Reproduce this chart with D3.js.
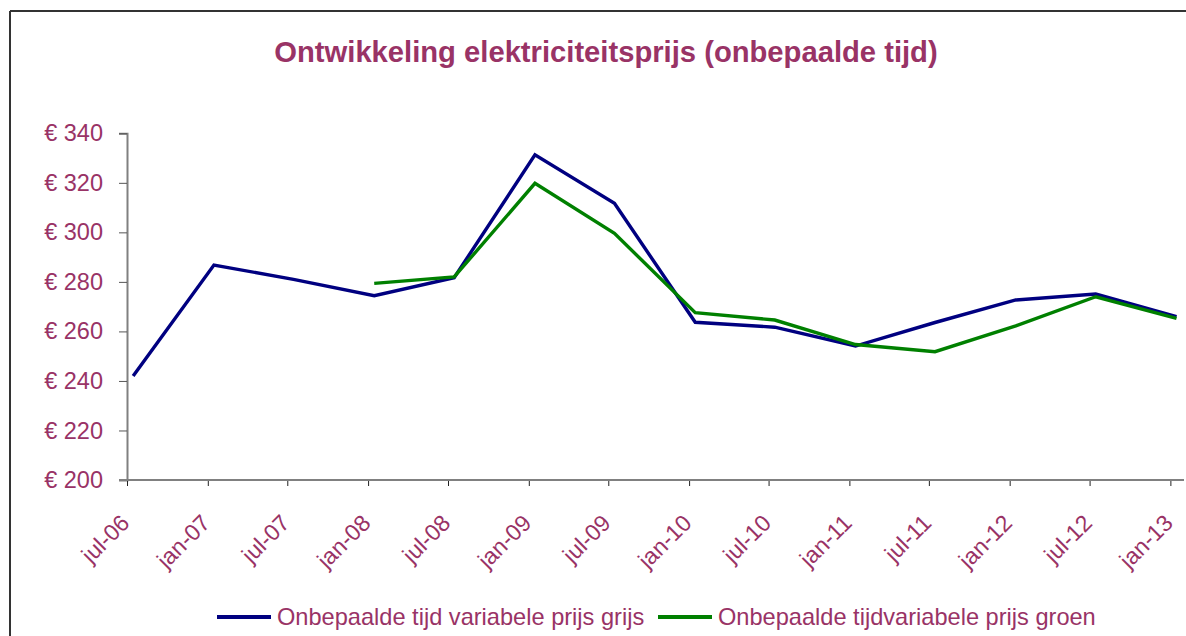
<!DOCTYPE html>
<html>
<head>
<meta charset="utf-8">
<style>
body { margin: 0; background: #fff; }
svg { display: block; font-family: "Liberation Sans", Arial, sans-serif; }
</style>
</head>
<body>
<svg width="1186" height="636"></svg>
<script src="https://d3js.org/d3.v7.min.js"></script>
<script>
// months of the series (data points sit mid-month)
var months = ["2006-07", "2007-01", "2007-07", "2008-01", "2008-07", "2009-01", "2009-07",
              "2010-01", "2010-07", "2011-01", "2011-07", "2012-01", "2012-07", "2013-01"];
var tickLabels = ["jul-06", "jan-07", "jul-07", "jan-08", "jul-08", "jan-09", "jul-09",
                  "jan-10", "jul-10", "jan-11", "jul-11", "jan-12", "jul-12", "jan-13"];
var grijs = [242, 286.8, 281, 274.4, 281.7, 331.3, 311.7, 263.7, 261.7, 254.1, 263.6, 272.7, 275.1, 266];
var groen = [null, null, null, 279.4, 282, 319.8, 299.6, 267.6, 264.6, 254.7, 251.8, 262.2, 274, 265.3];
var yTicks = [200, 220, 240, 260, 280, 300, 320, 340];
var seriesNames = ["Onbepaalde tijd variabele prijs grijs", "Onbepaalde tijdvariabele prijs groen"];
var seriesColors = ["#000080", "#008000"];

var plum = "#993366";
var svg = d3.select("svg");

var parseMonth = d3.timeParse("%Y-%m");
var tickDates = months.map(parseMonth);
var pointDates = tickDates.map(function(d) { return d3.timeDay.offset(d, 14); });

var x = d3.scaleTime()
    .domain([tickDates[0], d3.timeMonth.offset(tickDates[tickDates.length - 1], 1)])
    .range([127, 1184]);

var y = d3.scaleLinear()
    .domain([200, 340])
    .range([480, 133.3]);

// frame
svg.append("line").attr("x1", 10).attr("y1", 11).attr("x2", 1186).attr("y2", 11)
    .attr("stroke", "#333").attr("stroke-width", 2);
svg.append("line").attr("x1", 10).attr("y1", 11).attr("x2", 10).attr("y2", 636)
    .attr("stroke", "#333").attr("stroke-width", 2);

// title
svg.append("text")
    .attr("x", 606).attr("y", 62)
    .attr("text-anchor", "middle")
    .attr("fill", plum)
    .attr("font-weight", "bold")
    .attr("font-size", 29.2)
    .text("Ontwikkeling elektriciteitsprijs (onbepaalde tijd)");

// y axis
var yAxis = svg.append("g")
    .attr("transform", "translate(127,0)")
    .call(d3.axisLeft(y).tickValues(yTicks).tickSize(8).tickPadding(16)
        .tickFormat(function(d) { return "\u20AC " + d; }));
yAxis.select(".domain").attr("stroke", "#808080").attr("stroke-width", 2);
yAxis.selectAll(".tick line").attr("stroke", "#555");
yAxis.selectAll("text")
    .attr("fill", plum)
    .attr("font-size", 23.5)
    .attr("font-family", "Liberation Sans, Arial, sans-serif");

// x axis
var xAxis = svg.append("g")
    .attr("transform", "translate(0,480)")
    .call(d3.axisBottom(x).tickValues(tickDates).tickSize(6).tickSizeOuter(0)
        .tickFormat(function(d, i) { return tickLabels[i]; }));
xAxis.select(".domain").remove();
xAxis.selectAll(".tick line").attr("stroke", "#222");
xAxis.selectAll("text")
    .attr("fill", plum)
    .attr("font-size", 23)
    .attr("font-family", "Liberation Sans, Arial, sans-serif")
    .attr("text-anchor", "end")
    .attr("dy", 0)
    .attr("transform", "translate(-3,38) rotate(-45)");
svg.append("line").attr("x1", 119).attr("x2", 1184).attr("y1", 480).attr("y2", 480)
    .attr("stroke", "#808080").attr("stroke-width", 2);

// lines
var line = d3.line()
    .defined(function(d) { return d.v != null; })
    .x(function(d) { return x(d.t); })
    .y(function(d) { return y(d.v); });

[grijs, groen].forEach(function(s, k) {
    svg.append("path")
        .datum(s.map(function(v, i) { return {t: pointDates[i], v: v}; }))
        .attr("fill", "none")
        .attr("stroke", seriesColors[k])
        .attr("stroke-width", 3.4)
        .attr("d", line);
});

// legend
var legX = [217, 658];
seriesNames.forEach(function(name, k) {
    svg.append("line")
        .attr("x1", legX[k]).attr("x2", legX[k] + 54)
        .attr("y1", 617).attr("y2", 617)
        .attr("stroke", seriesColors[k]).attr("stroke-width", 4);
    svg.append("text")
        .attr("x", legX[k] + 60).attr("y", 625)
        .attr("fill", plum)
        .attr("font-size", 23.6)
        .text(name);
});
</script>
</body>
</html>
